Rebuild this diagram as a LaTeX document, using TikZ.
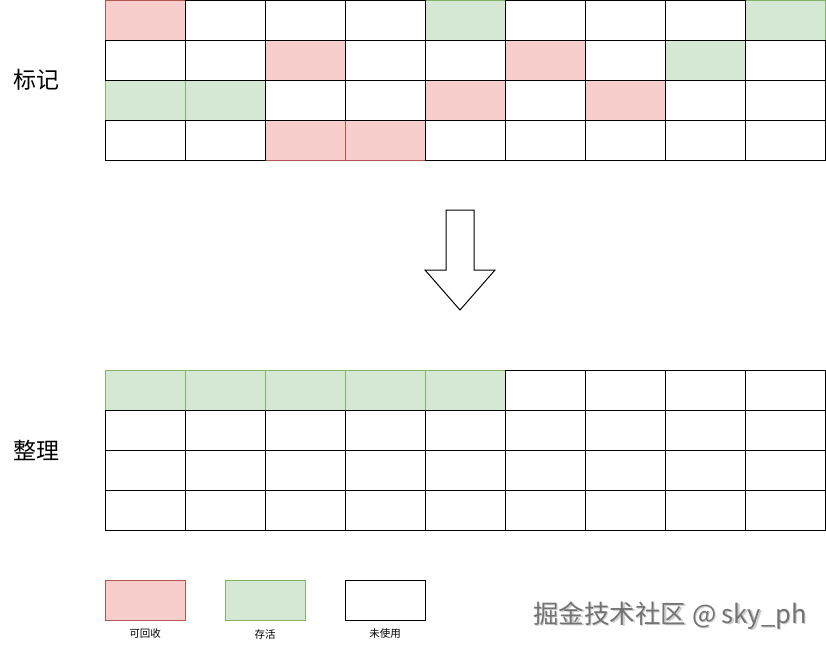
\documentclass[tikz,border=0pt]{standalone}
\usepackage{fontspec}
\newfontfamily\cjk{Noto Sans CJK SC}
\definecolor{redfill}{HTML}{F8CECC}
\definecolor{redline}{HTML}{B85450}
\definecolor{greenfill}{HTML}{D5E8D4}
\definecolor{greenline}{HTML}{82B366}
\begin{document}
\begin{tikzpicture}[x=1pt,y=-1pt,
  cell/.style={draw=black,line width=1pt,fill=white,minimum width=80pt,minimum height=40pt,inner sep=0pt,outer sep=0pt,anchor=north west},
  redcell/.style={cell,draw=redline,fill=redfill},
  greencell/.style={cell,draw=greenline,fill=greenfill},
  title/.style={font=\cjk\fontsize{23}{25}\selectfont},
  legendlabel/.style={font=\cjk\fontsize{10.5}{12}\selectfont}]
\useasboundingbox (0,0) rectangle (826,651);
% top grid: colored cells first, then white
\foreach \r/\c in {0/0,1/2,1/5,2/4,2/6,3/2,3/3}{
  \node[redcell] (t\r\c) at ({105+80*\c},{0.5+40*\r}) {};
}
\foreach \r/\c in {0/4,0/8,1/7,2/0,2/1}{
  \node[greencell] (t\r\c) at ({105+80*\c},{0.5+40*\r}) {};
}
\foreach \r/\c in {0/1,0/2,0/3,0/5,0/6,0/7,1/0,1/1,1/3,1/4,1/6,1/8,2/2,2/3,2/5,2/7,2/8,3/0,3/1,3/4,3/5,3/6,3/7,3/8}{
  \node[cell] (t\r\c) at ({105+80*\c},{0.5+40*\r}) {};
}
% bottom grid
\foreach \c in {0,...,4}{\node[greencell] (b0\c) at ({105+80*\c},370) {};}
\foreach \c in {5,...,8}{\node[cell] (b0\c) at ({105+80*\c},370) {};}
\foreach \r in {1,2,3}{\foreach \c in {0,...,8}{\node[cell] (b\r\c) at ({105+80*\c},{370+40*\r}) {};}}
% titles
\node[title] (mark) at (36,80) {标记};
\node[title] (compact) at (36,450) {整理};
% arrow
\draw[line width=1pt,fill=white] (446,210) -- (474,210) -- (474,270) -- (495,270) -- (460,310) -- (425,270) -- (446,270) -- cycle;
% legend
\node[redcell] (lr) at (105,580) {};
\node[greencell] (lg) at (225,580) {};
\node[cell] (lw) at (345,580) {};
\node[legendlabel] (lrl) at (145,634) {可回收};
\node[legendlabel] (lgl) at (265,634) {存活};
\node[legendlabel] (lwl) at (385,634) {未使用};
% watermark
\node[font=\cjk\fontsize{25.5}{27}\selectfont,text=black!20] at (671.5,617) {掘金技术社区 @ sky\_ph};
\node[font=\cjk\fontsize{25.5}{27}\selectfont,text=black!55] (wm) at (670,615.5) {掘金技术社区 @ sky\_ph};
\end{tikzpicture}
\end{document}
